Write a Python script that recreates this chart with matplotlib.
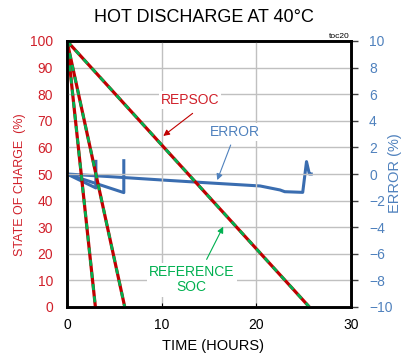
import matplotlib
matplotlib.use("Agg")
import matplotlib.pyplot as plt

plt.rcParams['font.family'] = ['Liberation Sans', 'DejaVu Sans']

RED = '#c00000'
GREEN = '#00b050'
BLUE = '#3a6db0'
RED_TXT = '#d0202a'
BLUE_TXT = '#4f81bd'

# state of charge (%) vs time (hours) for the three discharge rates
soc_t_fast = [0, 3.0]
soc_t_mid = [0, 6.1]
soc_t_slow = [0, 25.6]
soc_pct = [100, 0]

# error (%) between REPSOC and reference SOC
err_t_fast = [0, 3.05, 3.05]
err_fast = [0, -1.05, 0.95]
err_t_mid = [0, 6.0, 6.0]
err_mid = [0, -1.4, 1.0]
err_t_slow = [0, 5, 10, 15, 20.4, 22.5, 23.0, 24.9, 25.3, 25.6, 25.8]
err_slow = [0, -0.22, -0.45, -0.67, -0.9, -1.2, -1.33, -1.38, 0.93, 0.0, 0.0]

fig = plt.figure(figsize=(4.03, 3.6), dpi=100)
ax = fig.add_axes([67 / 403, 1 - 307 / 360, 284 / 403, 266 / 360])
ax2 = ax.twinx()
ax.set_zorder(ax2.get_zorder() + 1)
ax.patch.set_visible(False)

for t in (soc_t_fast, soc_t_mid, soc_t_slow):
    ax.plot(t, soc_pct, color=RED, lw=2.3, solid_capstyle='butt')
    ax.plot(t, soc_pct, color=GREEN, lw=2.0, dashes=(2.2, 2.2))

for t, e in ((err_t_fast, err_fast), (err_t_mid, err_mid), (err_t_slow, err_slow)):
    ax2.plot(t, e, color=BLUE, lw=2.2, solid_joinstyle='round')

ax.set_xlim(0, 30)
ax.set_ylim(0, 100)
ax2.set_ylim(-10, 10)
ax.set_xticks([0, 10, 20, 30])
ax.set_yticks(range(0, 101, 10))
ax2.set_yticks(range(-10, 11, 2))

ax.grid(True, color='#c0c0c0', lw=1)
ax.set_axisbelow(True)

for a in (ax, ax2):
    for s in a.spines.values():
        s.set_linewidth(1.9)
        s.set_color('black')

ax.tick_params(axis='y', length=0, pad=10, labelsize=10, labelcolor=RED_TXT)
ax.tick_params(axis='x', direction='in', length=3, pad=8, labelsize=10)
ax2.tick_params(axis='y', direction='out', length=5, width=1, pad=8,
                labelsize=10, labelcolor=BLUE_TXT, color='#404040')

fig.text(0.506, 0.95, 'HOT DISCHARGE AT 40\u00b0C', ha='center', va='center', fontsize=13)
fig.text(350 / 403, 1 - 36 / 360, 'toc20', ha='right', va='center', fontsize=6)
fig.text(213 / 403, 1 - 346 / 360, 'TIME (HOURS)', ha='center', va='center', fontsize=10.5)
fig.text(20 / 403, 1 - 185 / 360, 'STATE OF CHARGE  (%)', ha='center', va='center',
         rotation=90, fontsize=9, color=RED_TXT,
         family=['Liberation Sans Narrow', 'Liberation Sans'])
fig.text(395 / 403, 1 - 173 / 360, 'ERROR (%)', ha='center', va='center',
         rotation=90, fontsize=10.5, color=BLUE_TXT)

box = dict(facecolor='white', edgecolor='none', pad=1.5)
ax.text(13.0, 77.8, 'REPSOC', color=RED_TXT, fontsize=10, ha='center', va='center', bbox=box)
ax.text(17.74, 65.9, 'ERROR', color=BLUE_TXT, fontsize=10, ha='center', va='center', bbox=box)
ax.text(13.17, 10.2, 'REFERENCE\nSOC', color=GREEN, fontsize=10, ha='center', va='center',
        linespacing=1.1, bbox=box)

arrow = dict(arrowstyle='-|>', lw=0.8, mutation_scale=9, shrinkA=0, shrinkB=0)
ax.annotate('', xy=(10.17, 64.3), xytext=(13.27, 72.8), arrowprops=dict(arrow, color=RED))
ax.annotate('', xy=(15.87, 47.7), xytext=(17.29, 60.9), arrowprops=dict(arrow, color=BLUE_TXT))
ax.annotate('', xy=(16.5, 30.2), xytext=(14.75, 17.9), arrowprops=dict(arrow, color=GREEN))

fig.savefig('out.png', dpi=100)
